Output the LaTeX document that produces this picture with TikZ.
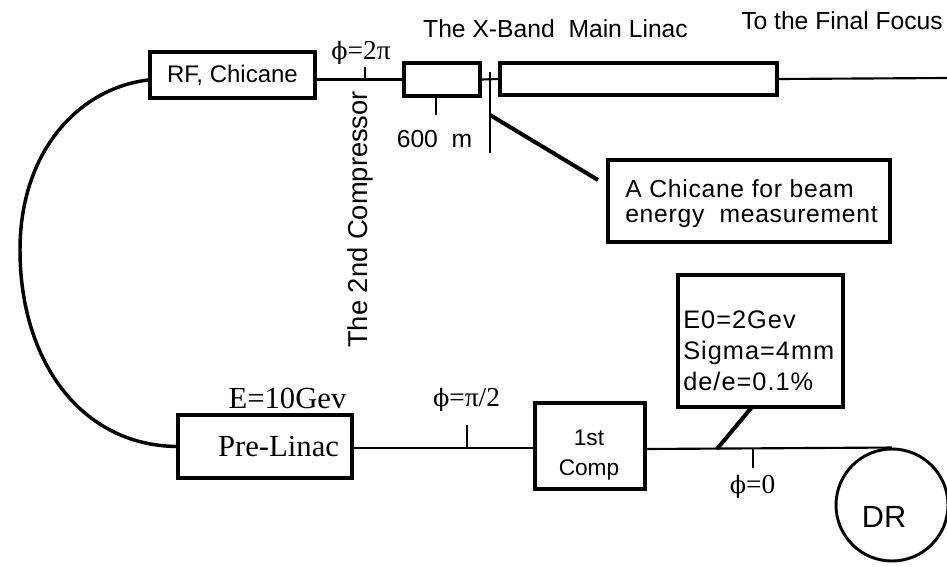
\documentclass[tikz,border=0pt]{standalone}
\usepackage{fontspec}
\setmainfont{Liberation Serif}
\setsansfont{Liberation Sans}
\newfontfamily\sanswide[LetterSpace=4]{Liberation Sans}
\newfontfamily\sansmid[LetterSpace=3]{Liberation Sans}
\newfontfamily\phifont{DejaVu Serif}
\newcommand{\myphi}{{\phifont\fontsize{18}{22}\selectfont ϕ}}
\usetikzlibrary{calc}
\begin{document}
\begin{tikzpicture}[x=0.75pt,y=-0.75pt,
  box/.style={draw,line width=2.6pt,inner sep=0pt,rectangle},
  beam/.style={line width=1.6pt},
  tickmark/.style={line width=1.8pt},
  pointer/.style={line width=3pt},
  curveline/.style={line width=2.6pt},
  sans/.style={font=\sffamily\fontsize{18.5}{21}\selectfont,inner sep=0pt},
  serif/.style={font=\rmfamily\fontsize{20.5}{24}\selectfont,inner sep=0pt}]
\useasboundingbox (0,0) rectangle (947,567);
% boxes
\node[box,minimum width=123.75pt,minimum height=34.5pt,font=\sffamily\fontsize{18}{21}\selectfont] (rf) at (232.5,75) {RF, Chicane};
\node[box,minimum width=57pt,minimum height=24.75pt] (lin1) at (442,79.5) {};
\node[box,minimum width=207.75pt,minimum height=24pt] (lin2) at (638.5,79) {};
\node[box,minimum width=211.5pt,minimum height=61.5pt] (chbox) at (749,201) {};
\node[box,minimum width=130.5pt,minimum height=47.25pt,text width=111pt,inner xsep=9.75pt,align=right,font=\rmfamily\fontsize{23}{27}\selectfont] (pre) at (265,446.5) {Pre-Linac};
\node[box,minimum width=82.5pt,minimum height=64.5pt] (comp) at (590,446) {};
\node[box,line width=3pt,minimum width=123.75pt,minimum height=99pt] (e0box) at (760.5,341) {};
\node[draw,circle,line width=2.2pt,minimum size=84pt,inner sep=0pt] (dr) at (892,505) {};
% texts
\node[font=\sansmid\fontsize{18.5}{18.75}\selectfont,inner sep=0pt,anchor=base west] (chtxt) at (625,197)
  {\def\arraystretch{1}\begin{tabular}[t]{@{}l@{}}A Chicane for beam\\energy\ \ measurement\end{tabular}};
\node[font=\sffamily\fontsize{17}{22.5}\selectfont,inner sep=0pt,anchor=base] (comptxt) at (589,445)
  {\def\arraystretch{1}\begin{tabular}[t]{@{}c@{}}1st\\Comp\end{tabular}};
\node[sans,anchor=base] (xband) at (555.5,38) {The X-Band\ \ Main Linac};
\node[font=\sffamily\fontsize{18.5}{21}\selectfont,inner sep=0pt,anchor=base west] (ff) at (741,30) {To the Final Focus};
\node[sans,anchor=base] (m600) at (434.5,147) {600\ \ m};
\node[font=\sffamily\fontsize{20.5}{23}\selectfont,inner sep=0pt,rotate=90,anchor=base west] (comp2) at (367,348) {The 2nd Compressor};
\node[serif,anchor=base] (phi2pi) at (361,60) {\myphi=2π};
\node[serif,font=\rmfamily\fontsize{23}{27}\selectfont,anchor=base] (e10) at (287.5,408) {E=10Gev};
\node[serif,anchor=base] (phipi2) at (466.5,406) {\myphi=π/2};
\node[serif,anchor=base] (phi0) at (752.5,493) {\myphi=0};
\node[font=\sanswide\fontsize{19}{23.25}\selectfont,inner sep=0pt,anchor=base west] (e0txt) at (683,328)
  {\def\arraystretch{1}\begin{tabular}[t]{@{}l@{}}E0=2Gev\\Sigma=4mm\\de/e=0.1\%\end{tabular}};
\node[font=\sffamily\fontsize{23}{27}\selectfont,inner sep=0pt,anchor=base] (drtxt) at (884,527) {DR};
% coordinates
\coordinate (t2pi) at (365,79);
\coordinate (chtop) at (490,72);
\coordinate (chbot) at (490,153);
\coordinate (chmid) at (490,115);
\coordinate (chtip) at (598,180);
\coordinate (t600) at (436,96);
\coordinate (ffend) at (947,78);
\coordinate (tpi2) at (467,448);
\coordinate (tpi2top) at (467,425);
\coordinate (t0) at (753,449);
\coordinate (t0bot) at (753,468);
\coordinate (e0foot) at (717,449);
\coordinate (e0top) at (752,407);
% connectors
\draw[beam] (rf.east |- lin1.west) -- (lin1.west);
\draw[tickmark] (t2pi) -- ++(0,-12);
\draw[beam] (lin1.east) -- (lin2.west);
\draw[tickmark] (chtop) -- (chbot);
\draw[tickmark] (t600) -- ++(0,19);
\draw[pointer] (chmid) -- (chtip);
\draw[beam] (lin2.east) -- (ffend);
\draw[curveline] ($(rf.west)+(0,5)$) .. controls (80,88) and (20,150) .. (20,250)
   .. controls (20,360) and (80,445) .. (pre.west);
\draw[beam] (pre.east |- tpi2) -- (comp.west |- tpi2);
\draw[tickmark] (tpi2) -- (tpi2top);
\draw[beam] (comp.east |- t0) -- (dr.north);
\draw[tickmark] (t0) -- (t0bot);
\draw[pointer] (e0top) -- (e0foot);
\end{tikzpicture}
\end{document}
